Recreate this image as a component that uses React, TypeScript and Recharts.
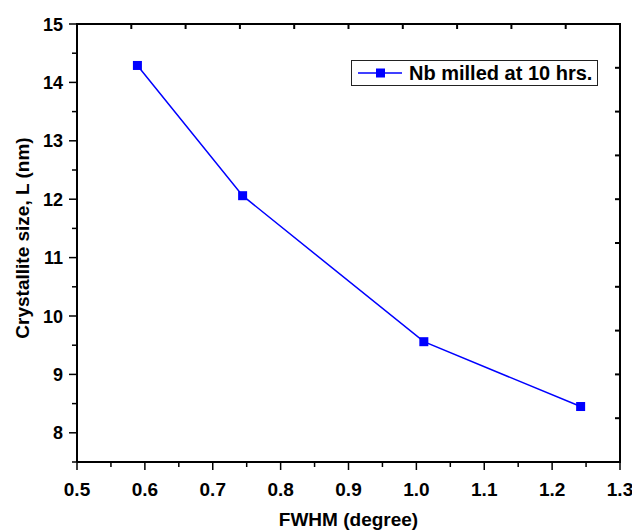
import { Line, LineChart, ReferenceLine, XAxis, YAxis } from "recharts";

const FWHM = [0.589, 0.744, 1.011, 1.242];
const SIZE = [14.29, 12.06, 9.56, 8.45];

const X_TICKS = [0.5, 0.55, 0.6, 0.65, 0.7, 0.75, 0.8, 0.85, 0.9, 0.95, 1.0, 1.05, 1.1, 1.15, 1.2, 1.25, 1.3];
const Y_TICKS = [7.5, 8, 8.5, 9, 9.5, 10, 10.5, 11, 11.5, 12, 12.5, 13, 13.5, 14, 14.5, 15];
const TOP_TICKS = [0.58, 0.66, 0.74, 0.82, 0.9, 0.98, 1.06, 1.14, 1.22];
const RIGHT_TICKS = [8.25, 9, 9.75, 10.5, 11.25, 12, 12.75, 13.5, 14.25];

const SERIES_NAME = "Nb milled at 10 hrs.";
const X_TITLE = "FWHM (degree)";
const Y_TITLE = "Crystallite size, L (nm)";

const data = FWHM.map((fwhm, i) => ({ fwhm, size: SIZE[i] }));

const FONT = "'Liberation Sans', Arial, sans-serif";
const BLUE = "#0000FF";

function isMajor(v: number): boolean {
	return Math.abs(v * 10 - Math.round(v * 10)) < 1e-6;
}

function BottomTick({ x, y, payload }: any) {
	const v: number = payload.value;
	const major = isMajor(v);
	return (
		<g>
			<line x1={x} x2={x} y1={y} y2={y + (major ? 8 : 5)} stroke="#000" strokeWidth={1.5} />
			{major && (
				<text x={x} y={y + 34} textAnchor="middle" fontFamily={FONT} fontWeight="bold" fontSize={19} fill="#000">
					{v.toFixed(1)}
				</text>
			)}
		</g>
	);
}

function LeftTick({ x, y, payload }: any) {
	const v: number = payload.value;
	const major = Number.isInteger(v);
	return (
		<g>
			<line x1={x} x2={x - (major ? 8 : 5)} y1={y} y2={y} stroke="#000" strokeWidth={1.5} />
			{major && v >= 8 && (
				<text x={x - 14} y={y + 6.5} textAnchor="end" fontFamily={FONT} fontWeight="bold" fontSize={18} fill="#000">
					{v}
				</text>
			)}
		</g>
	);
}

// short inward ticks on the top border
function TopTickShape({ x1, y1, y2 }: any) {
	const top = Math.min(y1, y2);
	return <line x1={x1} x2={x1} y1={top} y2={top + 5} stroke="#000" strokeWidth={2} />;
}

// short inward ticks on the right border
function RightTickShape({ x1, x2, y1 }: any) {
	const right = Math.max(x1, x2);
	return <line x1={right} x2={right - 5} y1={y1} y2={y1} stroke="#000" strokeWidth={2} />;
}

function SquareDot({ cx, cy, index }: any) {
	if (cx == null || cy == null) return null;
	return <rect key={index} x={cx - 4.5} y={cy - 4.5} width={9} height={9} fill={BLUE} />;
}

function YTitle({ viewBox }: any) {
	const cy = viewBox.y + viewBox.height / 2 - 5;
	return (
		<text
			x={29}
			y={cy}
			transform={`rotate(-90, 29, ${cy})`}
			textAnchor="middle"
			fontFamily={FONT}
			fontWeight="bold"
			fontSize={19}
			fill="#000"
		>
			{Y_TITLE}
		</text>
	);
}

function XTitle({ viewBox }: any) {
	const cx = viewBox.x + viewBox.width / 2;
	return (
		<text x={cx} y={526} textAnchor="middle" fontFamily={FONT} fontWeight="bold" fontSize={19} fill="#000">
			{X_TITLE}
		</text>
	);
}

export default function App() {
	return (
		<div style={{ position: "absolute", left: 0, top: 0, width: 632, height: 531, background: "#fff" }}>
			<LineChart width={632} height={531} data={data} margin={{ top: 24, right: 12, bottom: 0, left: 0 }}>
				<XAxis
					dataKey="fwhm"
					type="number"
					domain={[0.5, 1.3]}
					ticks={X_TICKS}
					interval={0}
					height={69}
					tickSize={0}
					tickMargin={0}
					tickLine={false}
					axisLine={{ stroke: "#000", strokeWidth: 2 }}
					tick={<BottomTick />}
					label={<XTitle />}
				/>
				<YAxis
					type="number"
					domain={[7.5, 15]}
					ticks={Y_TICKS}
					interval={0}
					width={77}
					tickSize={0}
					tickMargin={0}
					tickLine={false}
					axisLine={{ stroke: "#000", strokeWidth: 2 }}
					tick={<LeftTick />}
					label={<YTitle />}
				/>
				<ReferenceLine y={15} stroke="#000" strokeWidth={2} ifOverflow="visible" />
				<ReferenceLine x={1.3} stroke="#000" strokeWidth={2} ifOverflow="visible" />
				{TOP_TICKS.map((v) => (
					<ReferenceLine key={`t${v}`} x={v} shape={<TopTickShape />} />
				))}
				{RIGHT_TICKS.map((v) => (
					<ReferenceLine key={`r${v}`} y={v} shape={<RightTickShape />} />
				))}
				<Line
					dataKey="size"
					name={SERIES_NAME}
					stroke={BLUE}
					strokeWidth={1.5}
					dot={<SquareDot />}
					activeDot={false}
					isAnimationActive={false}
				/>
			</LineChart>
			{/* top and right border of the plot frame */}
			<div
				style={{
					position: "absolute",
					left: 76,
					top: 23,
					width: 545,
					height: 440,
					boxSizing: "border-box",
					borderTop: "2px solid #000",
					borderRight: "2px solid #000",
					pointerEvents: "none",
				}}
			/>
			<div
				style={{
					position: "absolute",
					left: 351,
					top: 60,
					width: 245,
					height: 24,
					border: "1px solid #222",
					display: "flex",
					alignItems: "center",
					fontFamily: FONT,
					fontWeight: "bold",
					fontSize: 20,
					color: "#000",
					whiteSpace: "nowrap",
				}}
			>
				<svg width={56} height={24} style={{ flex: "none" }}>
					<line x1={6} x2={50} y1={12} y2={12} stroke={BLUE} strokeWidth={1.5} />
					<rect x={24} y={7.5} width={9} height={9} fill={BLUE} />
				</svg>
				<span style={{ marginLeft: 1 }}>{SERIES_NAME}</span>
			</div>
		</div>
	);
}
